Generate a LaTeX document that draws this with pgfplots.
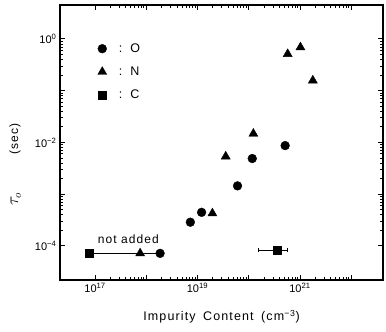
\documentclass[border=0pt]{standalone}
\usepackage{pgfplots}
\pgfplotsset{compat=1.18}
\usepackage{fontspec}
\setmainfont{Liberation Sans}
\newfontfamily\labelfont[LetterSpace=9]{Liberation Sans}
\begin{document}
\begin{tikzpicture}
\begin{axis}[
  scale only axis,
  width=323pt, height=275pt,
  xmode=log, ymode=log,
  xmin=2.07e16, xmax=4.17e22,
  ymin=2.2e-5, ymax=4.54,
  axis line style={line width=1.2pt},
  tick style={line width=1pt, black},
  major tick length=5pt,
  tick align=inside,
  minor tick num=0,
  xtick={1e17,1e18,1e19,1e20,1e21,1e22},
  xticklabels={10\textsuperscript{17},,10\textsuperscript{19},,10\textsuperscript{21},},
  ytick={1e-4,1e-3,1e-2,1e-1,1},
  yticklabels={10\textsuperscript{−4},,10\textsuperscript{−2},,10\textsuperscript{0}},
  ticklabel style={font=\fontsize{11}{13}\selectfont},
  xlabel={\labelfont Impurity\hspace{0.6em}Content\hspace{0.6em}(cm\textsuperscript{−3})},
  xlabel style={font=\fontsize{12.5}{14}\selectfont, at={(axis description cs:0.5,0)}, anchor=north, yshift=-27pt},
  ylabel={\fontsize{16}{18}\selectfont$\tau_o$\hspace{2.35em}{\fontsize{12}{14}\selectfont\labelfont (sec)}},
  ylabel style={at={(axis description cs:-0.139,0.42)}, anchor=center, rotate=0},
  legend style={draw=none, fill=none, at={(axis description cs:0.107,0.875)}, anchor=north west,
    font=\fontsize{12.5}{14}\selectfont, row sep=9pt},
  legend cell align=left,
]
\addplot[black, line width=0.8pt, forget plot] coordinates {(7.59e16,7.2e-5) (1.86e18,7.2e-5)};
\addplot[only marks, mark=*, mark size=4.4pt, black] coordinates {
 (1.86e18,7.2e-5) (7.24e18,2.88e-4) (1.20e19,4.47e-4) (6.03e19,1.45e-3) (1.17e20,4.90e-3) (5.13e20,8.71e-3)};
\addlegendentry{\hspace*{10pt}:\hspace*{8pt}O}
\addplot[only marks, mark=triangle*, mark size=5.2pt, black] coordinates {
 (7.59e17,7.2e-5) (1.95e19,4.27e-4) (3.55e19,5.37e-3) (1.23e20,1.48e-2) (5.75e20,0.513) (1.02e21,0.692) (1.78e21,0.158)};
\addlegendentry{\hspace*{10pt}:\hspace*{8pt}N}
\addplot[only marks, mark=square*, mark size=4pt, black,
  error bars/.cd, x dir=both, x explicit, error bar style={line width=0.8pt},
  error mark options={rotate=90, mark size=2pt}] coordinates {
 (7.59e16,7.2e-5) (3.55e20,8.32e-5) += (2.2e20,0) -= (2.04e20,0)};
\addlegendentry{\hspace*{10pt}:\hspace*{8pt}C}
\node[font=\fontsize{12}{14}\selectfont\labelfont] at (axis cs:4.47e17,1.36e-4) {not added};
\end{axis}
\pgfresetboundingbox
\useasboundingbox (current axis.south west) ++(-60pt,-52pt) rectangle ++(386pt,332pt);
\end{tikzpicture}
\end{document}
